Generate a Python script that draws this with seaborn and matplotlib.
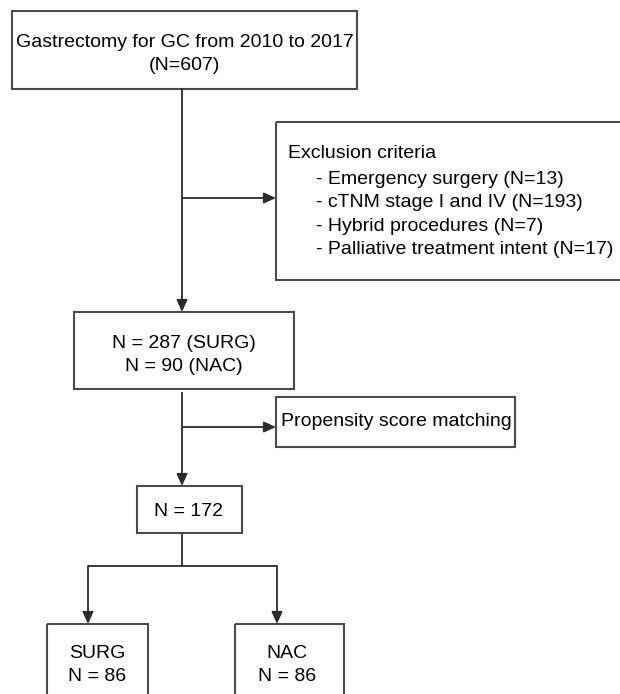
# plot.py - patient selection flowchart

import matplotlib
matplotlib.use('Agg')
import matplotlib.pyplot as plt
from matplotlib.patches import Rectangle
import seaborn as sns

# Data
n_total = 607
years = ['2010', '2017']
excl_labels = ['Emergency surgery', 'cTNM stage I and IV', 'Hybrid procedures', 'Palliative treatment intent']
excl_counts = [13, 193, 7, 17]
pre_groups = ['SURG', 'NAC']
pre_counts = [287, 90]
n_matched = 172
arm_labels = ['SURG', 'NAC']
arm_counts = [86, 86]

# Style
sns.set_theme(style='white')
plt.rcParams['font.family'] = ['Liberation Sans', 'DejaVu Sans']
LC = '#2b2b2b'
BC = '#4a4a4a'
FS = 14.0

fig = plt.figure(figsize=(6.2, 6.94), dpi=100)
ax = fig.add_axes([0, 0, 1, 1])
ax.set_xlim(0, 620)
ax.set_ylim(694, 0)
ax.axis('off')


def box(x0, y0, x1, y1):
    ax.add_patch(Rectangle((x0, y0), x1 - x0, y1 - y0, fill=False, ec=BC, lw=1.5, zorder=2))


def line(xs, ys):
    ax.plot(xs, ys, color=LC, lw=1.3, solid_capstyle='butt', zorder=1)


def arrow(x0, y0, x1, y1):
    ax.annotate('', xy=(x1, y1), xytext=(x0, y0),
                arrowprops=dict(arrowstyle='-|>,head_length=0.6,head_width=0.27',
                                color=LC, lw=1.3, shrinkA=0, shrinkB=0), zorder=3)


def label(x, y, s, ha='center'):
    ax.text(x, y, s, ha=ha, va='center', fontsize=FS, color='black',
            linespacing=1.5, zorder=4)


# Box 1: all gastrectomies
box(12, 11, 357, 89)
label(184.5, 54, 'Gastrectomy for GC from {} to {}\n(N={})'.format(years[0], years[1], n_total))

# main trunk to box 2
arrow(182, 89, 182, 312)

# Exclusion criteria
arrow(182, 198, 276, 198)
box(276, 122, 630, 280)
label(288, 153, 'Exclusion criteria', ha='left')
for i, (l, c) in enumerate(zip(excl_labels, excl_counts)):
    label(316, 179 + i * 23.5, '- {} (N={})'.format(l, c), ha='left')

# Box 2: eligible
box(74, 312, 294, 389)
label(184, 355, '\n'.join('N = {} ({})'.format(c, g) for g, c in zip(pre_groups, pre_counts)))

# Propensity score matching
line([182, 182], [392, 430])
arrow(182, 427, 276, 427)
box(276, 397, 515, 447)
label(396, 421, 'Propensity score matching')
arrow(182, 430, 182, 486)

# Box 3: matched
box(137, 486, 242, 533)
label(188, 512, 'N = {}'.format(n_matched))

# Split to arms
line([182, 182], [533, 566])
arm_x = [88, 277]
line(arm_x, [566, 566])
arm_boxes = [(47, 148), (235, 344)]
arm_text_x = [97, 287]
for ax_x, (bx0, bx1), tx, lab, cnt in zip(arm_x, arm_boxes, arm_text_x, arm_labels, arm_counts):
    arrow(ax_x, 566, ax_x, 624)
    box(bx0, 624, bx1, 705)
    label(tx, 665, '{}\nN = {}'.format(lab, cnt))

fig.savefig('out.png', dpi=100, facecolor='white')
